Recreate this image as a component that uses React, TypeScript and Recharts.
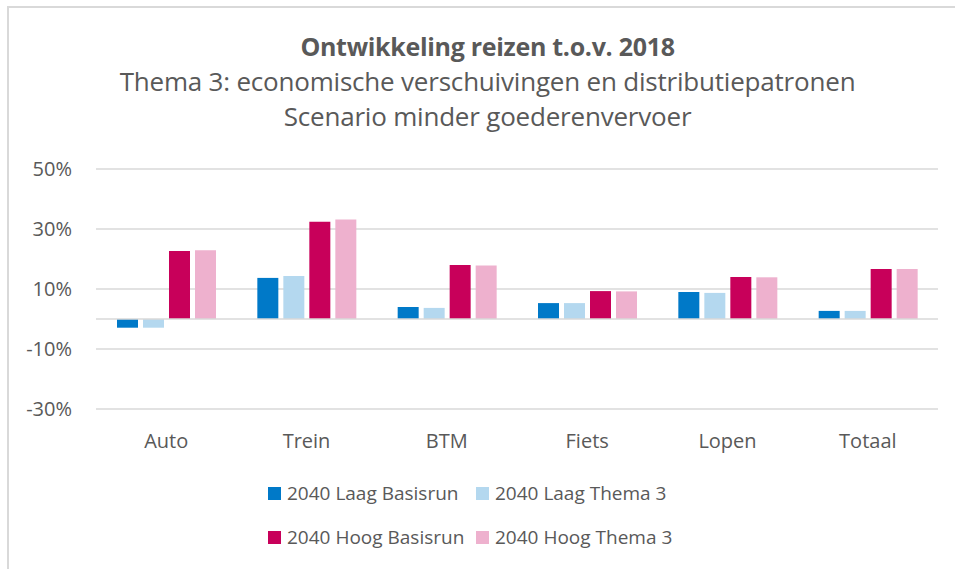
import React from "react";
import {
  BarChart,
  Bar,
  XAxis,
  YAxis,
  CartesianGrid,
  ReferenceLine,
} from "recharts";

// categorieën en waarden (procentuele ontwikkeling t.o.v. 2018)
const categories = ["Auto", "Trein", "BTM", "Fiets", "Lopen", "Totaal"];
const laagBasisrun = [-2.9, 13.7, 4.0, 5.3, 9.0, 2.7];
const laagThema3 = [-2.9, 14.3, 3.7, 5.3, 8.7, 2.7];
const hoogBasisrun = [22.7, 32.4, 18.0, 9.3, 14.0, 16.7];
const hoogThema3 = [22.9, 33.2, 17.8, 9.2, 13.9, 16.7];
const yTicks = [-30, -10, 10, 30, 50];

const series = [
  { key: "lb", name: "2040 Laag Basisrun", color: "#0079C8", values: laagBasisrun },
  { key: "lt", name: "2040 Laag Thema 3", color: "#B4D8EF", values: laagThema3 },
  { key: "hb", name: "2040 Hoog Basisrun", color: "#C8005A", values: hoogBasisrun },
  { key: "ht", name: "2040 Hoog Thema 3", color: "#EEB1CE", values: hoogThema3 },
];

const data = categories.map((name, i) => {
  const row: Record<string, number | string> = { name };
  series.forEach((s) => (row[s.key] = s.values[i]));
  return row;
});

const FONT = "'Open Sans', sans-serif";
const TEXT = "#595959";
const GRID = "#d9d9d9";

export default function App() {
  return (
    <div
      style={{
        position: "absolute",
        left: 0,
        top: 0,
        width: 955,
        height: 569,
        background: "#fff",
        fontFamily: FONT,
        overflow: "hidden",
      }}
    >
      {/* kader van de grafiek */}
      <div
        style={{
          position: "absolute",
          left: 7,
          top: 6,
          width: 960,
          height: 570,
          borderLeft: `2px solid ${GRID}`,
          borderTop: `2px solid ${GRID}`,
        }}
      />
      <div
        style={{
          position: "absolute",
          top: 29,
          left: 10,
          width: 955,
          textAlign: "center",
          color: TEXT,
          lineHeight: "35px",
        }}
      >
        <div style={{ fontSize: 25, fontWeight: 700, letterSpacing: -0.3 }}>
          Ontwikkeling reizen t.o.v. 2018
        </div>
        <div style={{ fontSize: 26, letterSpacing: -0.2 }}>
          Thema 3: economische verschuivingen en distributiepatronen
        </div>
        <div style={{ fontSize: 26, letterSpacing: -0.2 }}>Scenario minder goederenvervoer</div>
      </div>

      <div style={{ position: "absolute", left: 0, top: 0 }}>
        <BarChart
          width={955}
          height={460}
          data={data}
          margin={{ top: 169, right: 17, bottom: 21, left: 0 }}
          barGap={5}
          barSize={21}
        >
          <CartesianGrid vertical={false} stroke={GRID} strokeWidth={1.5} />
          <ReferenceLine y={0} stroke={GRID} strokeWidth={1.5} />
          <XAxis
            dataKey="name"
            axisLine={false}
            tickLine={false}
            height={30}
            tick={{ fill: TEXT, fontSize: 20, fontFamily: FONT }}
            tickMargin={19}
          />
          <YAxis
            type="number"
            domain={[-30, 50]}
            ticks={yTicks}
            interval={0}
            width={96}
            axisLine={false}
            tickLine={false}
            tickSize={0}
            tickMargin={24}
            tickFormatter={(v: number) => `${v}%`}
            tick={{ fill: TEXT, fontSize: 20, fontFamily: FONT }}
          />
          {series.map((s) => (
            <Bar
              key={s.key}
              dataKey={s.key}
              name={s.name}
              fill={s.color}
              isAnimationActive={false}
            />
          ))}
        </BarChart>
      </div>

      {/* legenda in twee rijen */}
      <div
        style={{
          position: "absolute",
          left: 268,
          top: 480,
          display: "grid",
          gridTemplateColumns: "208px 230px",
          rowGap: 18,
          color: TEXT,
          fontSize: 19,
        }}
      >
        {series.map((s) => (
          <div key={s.key} style={{ display: "flex", alignItems: "center", height: 26 }}>
            <span
              style={{
                display: "inline-block",
                width: 13,
                height: 13,
                background: s.color,
                marginRight: 6,
                flexShrink: 0,
              }}
            />
            <span style={{ whiteSpace: "nowrap" }}>{s.name}</span>
          </div>
        ))}
      </div>
    </div>
  );
}
